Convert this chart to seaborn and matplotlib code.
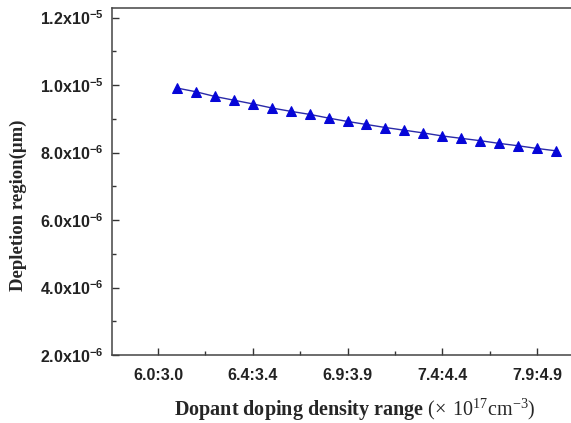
import matplotlib
matplotlib.use("Agg")
import matplotlib.pyplot as plt
from matplotlib.ticker import MultipleLocator, FixedLocator, FuncFormatter
import seaborn as sns
import pandas as pd

# Dopant ratio steps (index along the sweep) and the resulting depletion width
step = list(range(1, 22))
depletion = [9.91e-6, 9.80e-6, 9.66e-6, 9.55e-6, 9.44e-6, 9.32e-6, 9.22e-6,
             9.13e-6, 9.02e-6, 8.92e-6, 8.83e-6, 8.74e-6, 8.66e-6, 8.58e-6,
             8.49e-6, 8.42e-6, 8.35e-6, 8.27e-6, 8.20e-6, 8.12e-6, 8.05e-6]

tick_pos = [0, 5, 10, 15, 20]
tick_labels = ["6.0:3.0", "6.4:3.4", "6.9:3.9", "7.4:4.4", "7.9:4.9"]
y_ticks = [2e-6, 4e-6, 6e-6, 8e-6, 1.0e-5, 1.2e-5]

df = pd.DataFrame({"step": step, "depletion": depletion})

sns.set_style("ticks")
plt.rcParams["font.family"] = ["Liberation Sans", "DejaVu Sans"]
plt.rcParams["mathtext.fontset"] = "custom"
plt.rcParams["mathtext.bf"] = "Liberation Sans:bold"
plt.rcParams["mathtext.rm"] = "Liberation Serif"

W, H = 571, 423
fig = plt.figure(figsize=(W / 100, H / 100), dpi=100)
left, right, top, bottom = 112, 640, 8, 355
ax = fig.add_axes([left / W, 1 - bottom / H, (right - left) / W, (bottom - top) / H])

sns.lineplot(data=df, x="step", y="depletion", ax=ax, color="#2a2aa8",
             linewidth=1.0, marker="^", markersize=7, markerfacecolor="#0606d8",
             markeredgecolor="#0606d8", legend=False)

px_per_step = (537 - 158) / 20.0
ax.set_xlim(-(158 - left) / px_per_step, (right - 158) / px_per_step)
px_per_unit = (355 - 85) / 8e-6
ax.set_ylim(2e-6, 2e-6 + (bottom - top) / px_per_unit)

ax.xaxis.set_major_locator(FixedLocator(tick_pos))
ax.set_xticklabels(tick_labels)
ax.xaxis.set_minor_locator(FixedLocator([2.5, 7.5, 12.5, 17.5]))
ax.yaxis.set_major_locator(FixedLocator(y_ticks))
ax.yaxis.set_minor_locator(MultipleLocator(1e-6))


def sci(v, pos):
    mant, exp = f"{v:.1e}".split("e")
    return r"$\mathbf{" + mant + r"x10^{" + str(int(exp)) + r"}}$"


ax.yaxis.set_major_formatter(FuncFormatter(sci))

ax.tick_params(which="major", direction="in", length=5, width=1, labelsize=11.5,
               colors="#333333", labelcolor="#222222")
ax.tick_params(which="minor", direction="in", length=3, width=1, colors="#333333")
ax.tick_params(axis="x", pad=9)
ax.tick_params(axis="y", pad=6)
for lab in ax.get_xticklabels():
    lab.set_fontweight("bold")

for s in ax.spines.values():
    s.set_color("#444444")
    s.set_linewidth(1.1)

ax.set_xlabel("")
ax.set_ylabel("")
fig.text(355 / W, 1 - 410 / H,
         r"Dopant doping density range $(\times\ 10^{17}\mathrm{cm}^{-3})$",
         ha="center", va="center", fontsize=14.5, fontweight="bold",
         family=["Liberation Serif", "DejaVu Serif"])
fig.text(18 / W, 1 - 205 / H, "Depletion region(\u03bcm)", rotation=90,
         ha="center", va="center", fontsize=13.5, fontweight="bold",
         family=["Liberation Serif", "DejaVu Serif"])

fig.savefig("out.png", dpi=100)
